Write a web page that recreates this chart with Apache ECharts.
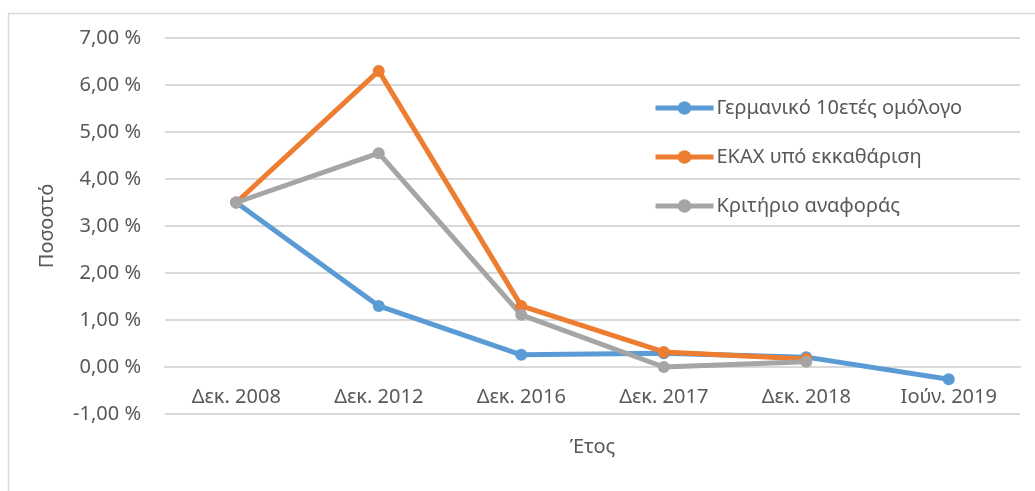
<!DOCTYPE html>
<html><head><meta charset="utf-8">
<script src="https://cdn.jsdelivr.net/npm/echarts@6/dist/echarts.min.js"></script>
<style>html,body{margin:0;padding:0;background:#fff}#c{width:1035px;height:491px}</style>
</head><body><div id="c"></div>
<script>
const categories = ['Δεκ. 2008','Δεκ. 2012','Δεκ. 2016','Δεκ. 2017','Δεκ. 2018','Ιούν. 2019'];
const bund10y = [3.5, 1.30, 0.26, 0.29, 0.21, -0.26];
const ekax = [3.5, 6.30, 1.30, 0.32, 0.17, null];
const benchmark = [3.5, 4.55, 1.11, 0.0, 0.11, null];
const seriesNames = ['Γερμανικό 10ετές ομόλογο','ΕΚΑΧ υπό εκκαθάριση','Κριτήριο αναφοράς'];
const colors = ['#5b9bd5','#ed7d31','#a5a5a5'];
const font = 'Noto Sans';
const chart = echarts.init(document.getElementById('c'));
function mk(name, data, color){
  return {name, type:'line', data, color, symbol:'circle', symbolSize:12,
    lineStyle:{width:5, color}, itemStyle:{color}, connectNulls:false, z:3};
}
chart.setOption({
  animation:false,
  textStyle:{fontFamily:font},
  graphic:[{type:'rect', shape:{x:8.5,y:13.5,width:1100,height:600}, style:{fill:'none', stroke:'#d9d9d9', lineWidth:1.5}, silent:true, z:-10}],
  grid:{left:165, right:15, top:38, bottom:77, containLabel:false, outerBoundsMode:'none'},
  legend:{orient:'vertical', left:648, top:93, itemGap:29, itemWidth:58, itemHeight:17,
    lineStyle:{width:5}, itemStyle:{},
    textStyle:{fontFamily:font, fontSize:20, color:'#595959', padding:[0,0,0,-2]},
    data:seriesNames},
  xAxis:{type:'category', data:categories, boundaryGap:true, offset:-47,
    name:'Έτος', nameLocation:'middle', nameGap:70,
    nameTextStyle:{fontFamily:font, fontSize:20, color:'#595959'},
    axisLine:{onZero:false, lineStyle:{color:'#d9d9d9', width:2}},
    axisTick:{show:false},
    axisLabel:{margin:20, fontFamily:font, fontSize:20, color:'#595959', interval:0}},
  yAxis:{type:'value', min:-1, max:7, interval:1,
    name:'Ποσοστό', nameLocation:'middle', nameGap:108,
    nameTextStyle:{fontFamily:font, fontSize:20, color:'#595959'},
    axisLine:{show:false}, axisTick:{show:false},
    splitLine:{lineStyle:{color:'#d9d9d9', width:2}},
    axisLabel:{margin:24, fontFamily:font, fontSize:20, color:'#595959',
      formatter:v=>v.toFixed(2).replace('.',',')+' %'}},
  series:[mk(seriesNames[0],bund10y,colors[0]), mk(seriesNames[1],ekax,colors[1]), mk(seriesNames[2],benchmark,colors[2])]
});
</script></body></html>
